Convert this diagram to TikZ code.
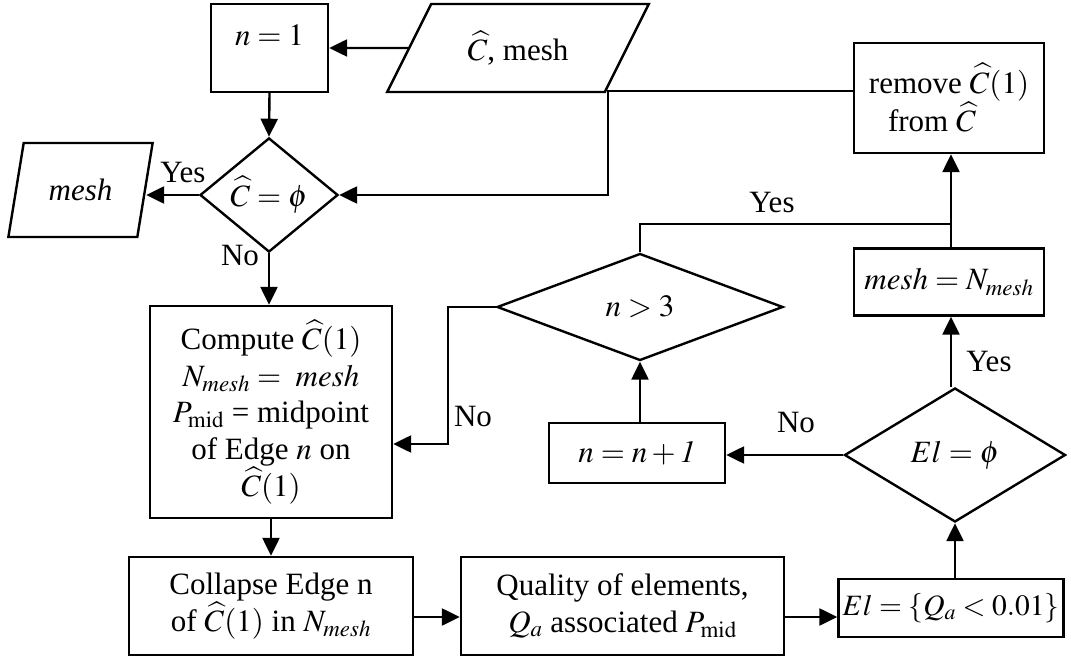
\documentclass[tikz,border=0pt]{standalone}
\usepackage{mathptmx}
\usepackage{fontspec}
\setmainfont{Liberation Serif}
\usetikzlibrary{shapes.geometric,arrows.meta,calc}

\tikzset{
  flow/.style={line width=2.4pt},
  box/.style={draw, flow, rectangle, inner sep=0pt, align=center},
  decision/.style={draw, flow, diamond, inner sep=0pt, align=center},
  io/.style={draw, flow, trapezium, trapezium stretches=true, inner sep=0pt, align=center},
  arr/.style={flow, -{Triangle[length=18pt,width=17pt]}},
  lab/.style={inner sep=0pt},
}

\begin{document}
\begin{tikzpicture}[x=1pt, y=-1pt, font=\fontsize{31}{36.5}\selectfont]
\useasboundingbox (0,0) rectangle (1071,660);

% ---- nodes ----
\node[box, minimum width=117pt, minimum height=88pt] (n1) at (269.5,48) {};
\node[lab] (n1t) at ([yshift=13pt]n1.center) {$n = 1$};

\node[io, trapezium left angle=53.6, trapezium right angle=126.4,
      minimum width=262pt, minimum height=88pt] (inp) at (518,48)
      {$\widehat{C}$, mesh};

\node[decision, minimum width=138pt, minimum height=90pt] (d1) at (269,195)
      {$\widehat{C} = \phi$};

\node[io, trapezium left angle=68.5, trapezium right angle=111.5,
      minimum width=145pt, minimum height=94pt] (out) at (80.5,190)
      {\itshape mesh};

\node[box, minimum width=242pt, minimum height=212pt] (comp) at (271,412)
      {Compute $\widehat{C}(1)$\\
       $N_{mesh} = \ mesh$\\
       $P_{\mathrm{mid}}$ = midpoint\\
       of Edge $n$ on\\
       $\widehat{C}(1)$};

\node[box, minimum width=284pt, minimum height=98pt] (coll) at (271,606)
      {Collapse Edge n\\ of $\widehat{C}(1)$ in $N_{mesh}$};

\node[box, minimum width=323pt, minimum height=98pt] (qual) at (622.5,606)
      {Quality of elements,\\ $Q_a$ associated $P_{\mathrm{mid}}$};

\node[box, minimum width=225pt, minimum height=58pt,
      font=\fontsize{29.5}{34}\selectfont] (els) at (951,608)
      {$El = \{Q_a < 0.01\}$};

\node[decision, minimum width=221pt, minimum height=134pt] (d3) at (955,455)
      {$El = \phi$};

\node[box, minimum width=176pt, minimum height=60pt] (nn) at (637,453)
      {$n = n + \mathit{1}$};

\node[decision, minimum width=286pt, minimum height=107pt] (d2) at (640,307)
      {$n > 3$};

\node[box, minimum width=190pt, minimum height=67pt] (mN) at (949,282)
      {$mesh = N_{mesh}$};

\node[box, minimum width=190pt, minimum height=110pt] (rem) at (949,98)
      {remove $\widehat{C}(1)$\\ from $\widehat{C}$\hspace*{34pt}\mbox{}};

% ---- junction points ----
\coordinate (back) at (608,91);
\coordinate (yesj) at (951,224);
\coordinate (noj) at (448,444);

% ---- connectors ----
\draw[arr] (inp.west) -- (n1.east);
\draw[arr] (n1.south) -- (d1.north);
\draw[arr] (d1.west) -- (out.east |- d1.west);
\draw[arr] (d1.south) -- (d1.south |- comp.north);
\draw[arr] (rem.west |- back) -- (back) |- (d1.east);
\draw[flow] (d2.north) |- (yesj);
\draw[arr] (yesj |- mN.north) -- (yesj |- rem.south);
\draw[arr] (yesj |- d3.north) -- (yesj |- mN.south);
\draw[arr] (d3.west) -- (nn.east |- d3.west);
\draw[arr] (d2.south |- nn.north) -- (d2.south);
\draw[arr] (d2.west) -| (noj) -- (comp.east |- noj);
\draw[arr] (comp.south -| coll.north) -- (coll.north);
\draw[arr] ([yshift=-11pt]coll.east) -- ([yshift=-11pt]coll.east -| qual.west);
\draw[arr] ([yshift=-11pt]coll.east -| qual.east) -- ([yshift=-11pt]coll.east -| els.west);
\draw[arr] (d3.south |- els.north) -- (d3.south);

% ---- branch labels ----
\node[lab] (y1) at (183,173) {Yes};
\node[lab] (n1l) at (240,256) {No};
\node[lab] (y2) at (772,203) {Yes};
\node[lab] (n2l) at (473,417) {No};
\node[lab] (n3l) at (796,423) {No};
\node[lab] (y3) at (989,362) {Yes};
\end{tikzpicture}
\end{document}
